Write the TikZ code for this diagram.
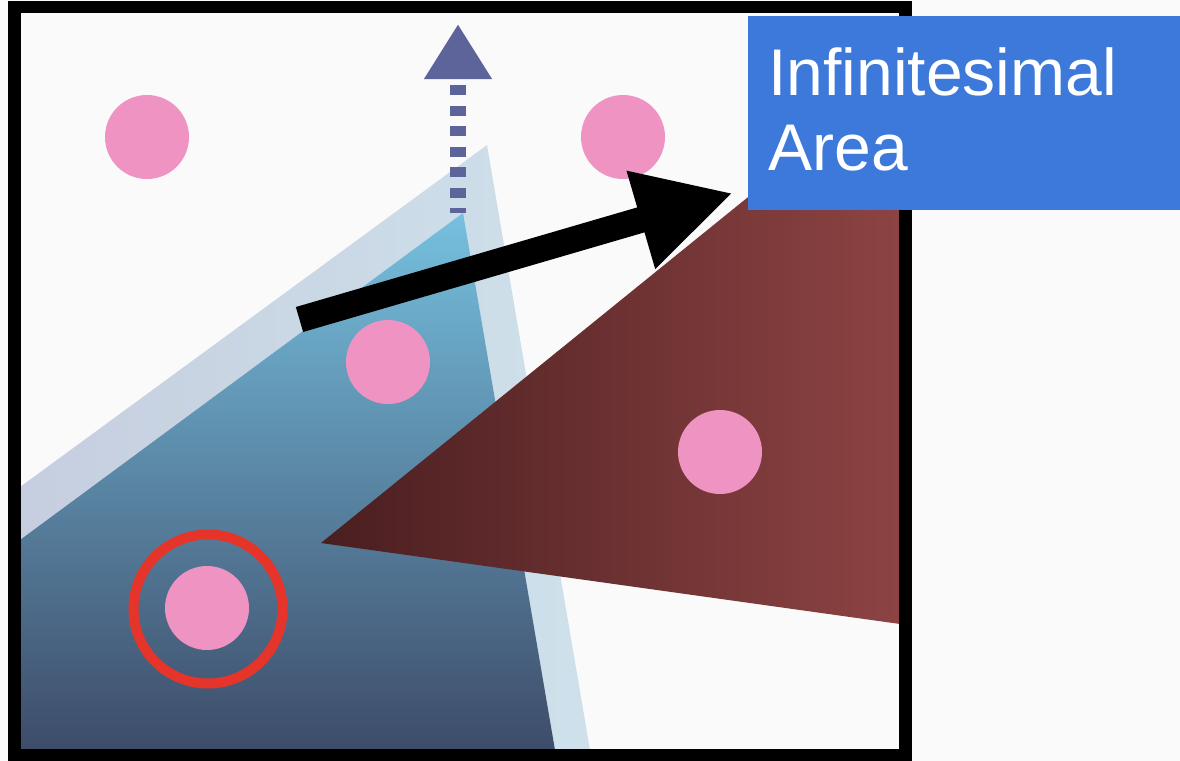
\documentclass[tikz,border=0pt]{standalone}
\usepackage{fontspec}
\setsansfont{Liberation Sans}
\usetikzlibrary{arrows.meta}
\definecolor{paper}{HTML}{FAFAFA}
\definecolor{dotpink}{HTML}{EF93C3}
\definecolor{ringred}{HTML}{E5352A}
\definecolor{slate}{HTML}{5C6499}
\definecolor{areablue}{HTML}{3D79DA}
\definecolor{bandleft}{HTML}{C6CEDF}
\definecolor{bandright}{HTML}{CEE1EB}
\definecolor{wedgetop}{HTML}{76C0DF}
\definecolor{wedgebot}{HTML}{3D4C69}
\definecolor{redleft}{HTML}{4A1E20}
\definecolor{redright}{HTML}{8D4343}
\tikzset{
  areabox/.style={fill=areablue, text=white, font=\sffamily\fontsize{33pt}{37.5pt}\selectfont,
    anchor=north west, minimum width=216pt, minimum height=97pt, text width=196pt,
    align=left, inner xsep=10pt, inner ysep=0pt},
}
\begin{document}
\begin{tikzpicture}[x=0.5pt, y=-0.5pt]
    \fill[paper] (0,0) rectangle (1180,761);
    \useasboundingbox (0,0) rectangle (1180,761);
    % wedges
    \shade[left color=bandleft, right color=bandright] (487,145) -- (590,750) -- (20,750) -- (20,487) -- cycle;
    \shade[top color=wedgetop, bottom color=wedgebot] (463,213) -- (555,750) -- (20,750) -- (20,540) -- cycle;
    \shade[left color=redleft, right color=redright] (321,543) -- (900,74) -- (900,624) -- cycle;
    % sample points
    \foreach \px/\py in {147/137, 623/137, 388/362, 720/452, 207/608}
      \fill[dotpink] (\px,\py) circle (42);
    \draw[ringred, line width=5pt] (208,609) circle (74.5);
    % normal and displacement
    \draw[slate, line width=8pt, dash pattern=on 5pt off 5.25pt, dash phase=2.5pt,
      -{Triangle[length=27.5pt, width=32pt]}] (458,213) -- (458,24);
    \draw[line width=13pt, -{Triangle[length=48pt, width=47.5pt]}] (299.5,319.5) -- (733,193);
    \draw[line width=6.25pt] (14.5,7) rectangle (905.5,755.5);
    \node[areabox] (area) at (748,16) {\raisebox{4pt}{Infinitesimal}\\\raisebox{4pt}{Area}};
\end{tikzpicture}
\end{document}
